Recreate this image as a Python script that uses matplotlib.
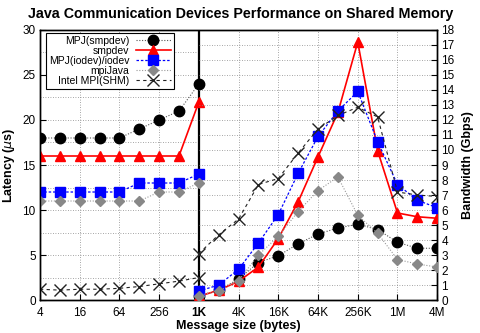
"""Java communication devices on shared memory: latency (left, <=1K) and bandwidth (right, >=1K)."""

import matplotlib
matplotlib.use("Agg")
import matplotlib.pyplot as plt
from matplotlib.ticker import FixedLocator, NullLocator

plt.rcParams["font.family"] = ["Liberation Sans", "DejaVu Sans"]

# latency part (us), message sizes 4 .. 1K
lat_sizes = [4, 8, 16, 32, 64, 128, 256, 512, 1024]
lat_mpj_smp = [18, 18, 18, 18, 18, 19, 20, 21, 24]
lat_smpdev = [16, 16, 16, 16, 16, 16, 16, 16, 22]
lat_mpj_io = [12, 12, 12, 12, 12, 13, 13, 13, 14]
lat_mpijava = [11, 11, 11, 11, 11, 11, 12, 12, 13]
lat_intel = [1.2, 1.1, 1.2, 1.2, 1.3, 1.5, 1.8, 2.1, 2.5]

# bandwidth part (Gbps), message sizes 1K .. 4M
bw_sizes = [2 ** k for k in range(10, 23)]
bw_mpj_smp = [0.3, 0.65, 1.4, 2.5, 2.95, 3.75, 4.4, 4.8, 5.05, 4.7, 3.85, 3.45, 3.45]
bw_smpdev = [0.25, 0.65, 1.25, 2.2, 4.1, 6.55, 9.55, 12.5, 17.2, 9.95, 5.8, 5.55, 5.45]
bw_mpj_io = [0.6, 1.0, 2.05, 3.8, 5.7, 8.45, 10.9, 12.6, 13.9, 10.55, 7.7, 6.65, 6.15]
bw_mpijava = [0.3, 0.6, 1.3, 3.0, 4.25, 5.9, 7.3, 8.2, 5.65, 4.45, 2.7, 2.4, 2.2]
bw_intel = [3.1, 4.35, 5.4, 7.7, 8.1, 9.8, 11.4, 12.3, 12.85, 12.2, 7.2, 7.0, 6.9]

xtick_vals = [4 ** k for k in range(1, 12)]
xtick_labels = ["4", "16", "64", "256", "1K", "4K", "16K", "64K", "256K", "1M", "4M"]

labels = ["MPJ(smpdev)", "smpdev", "MPJ(iodev)/iodev", "mpiJava", "Intel MPI(SHM)"]
styles = [
    dict(color="#555555", ls=(0, (1, 1.5)), lw=0.8, marker="o", ms=7.5, mfc="black", mec="black"),
    dict(color="red", ls="-", lw=1.2, marker="^", ms=7, mfc="red", mec="red"),
    dict(color="blue", ls=(0, (2, 1.5)), lw=0.9, marker="s", ms=7.5, mfc="blue", mec="blue"),
    dict(color="#999999", ls=(0, (1, 1.5)), lw=0.8, marker="D", ms=5, mfc="#888888", mec="#888888"),
    dict(color="#222222", ls=(0, (3, 3)), lw=0.8, marker="x", ms=8, mew=1.0, mec="#222222"),
]

fig = plt.figure(figsize=(4.81, 3.33), dpi=100)
ax = fig.add_axes([0.083, 0.099, 0.826, 0.811])
ax2 = ax.twinx()

ax.set_xscale("log", base=2)
ax.set_xlim(4, 4 * 1024 * 1024)
ax.set_ylim(0, 30)
ax2.set_ylim(0, 18)

ax.xaxis.set_major_locator(FixedLocator(xtick_vals))
ax.xaxis.set_minor_locator(NullLocator())
ax.set_xticklabels(xtick_labels)
for t in ax.get_xticklabels():
    if t.get_text() == "1K":
        t.set_fontweight("bold")
ax.set_yticks(range(0, 31, 5))
ax2.set_yticks(range(0, 19))

# grid: left half every 2.5 us, right half every 1 Gbps
gkw = dict(color="#888888", lw=0.6, ls=(0, (1, 2)), zorder=0)
for v in xtick_vals[1:-1]:
    ax.axvline(v, **gkw)
for y in [2.5 * k for k in range(1, 12)]:
    ax.plot([4, 1024], [y, y], **gkw)
for y in range(1, 18):
    ax2.plot([1024, 4 * 1024 * 1024], [y, y], **gkw)
ax.axvline(1024, color="black", lw=1.6, zorder=3)

lat_series = [lat_mpj_smp, lat_smpdev, lat_mpj_io, lat_mpijava, lat_intel]
bw_series = [bw_mpj_smp, bw_smpdev, bw_mpj_io, bw_mpijava, bw_intel]
handles = []
for lab, st, lat, bw in zip(labels, styles, lat_series, bw_series):
    (h,) = ax.plot(lat_sizes, lat, label=lab, zorder=4, **st)
    ax2.plot(bw_sizes, bw, zorder=4, **st)
    handles.append(h)

for a in (ax, ax2):
    a.tick_params(direction="in", labelsize=8.5, length=4, width=0.8, pad=3)
    for s in a.spines.values():
        s.set_linewidth(1.0)
ax.tick_params(axis="x", top=False, pad=5)

ax.set_xlabel("Message size (bytes)", fontsize=9, fontweight="bold", labelpad=1)
ax.set_ylabel("Latency ($\\mu$s)", fontsize=9, fontweight="bold", labelpad=4)
ax2.set_ylabel("Bandwidth (Gbps)", fontsize=9, fontweight="bold", labelpad=5)
fig.suptitle("Java Communication Devices Performance on Shared Memory",
             fontsize=10.3, fontweight="bold", y=0.98)

leg = ax.legend(handles=handles, loc="upper left", bbox_to_anchor=(0.015, 0.99),
                markerfirst=False, frameon=True, fancybox=False, edgecolor="black",
                framealpha=1, fontsize=7.5, handlelength=3.4, handletextpad=0.6,
                labelspacing=0.0, borderpad=0.3, borderaxespad=0)
leg.get_frame().set_linewidth(0.8)
leg.set_zorder(10)

fig.savefig("out.png", dpi=100)
